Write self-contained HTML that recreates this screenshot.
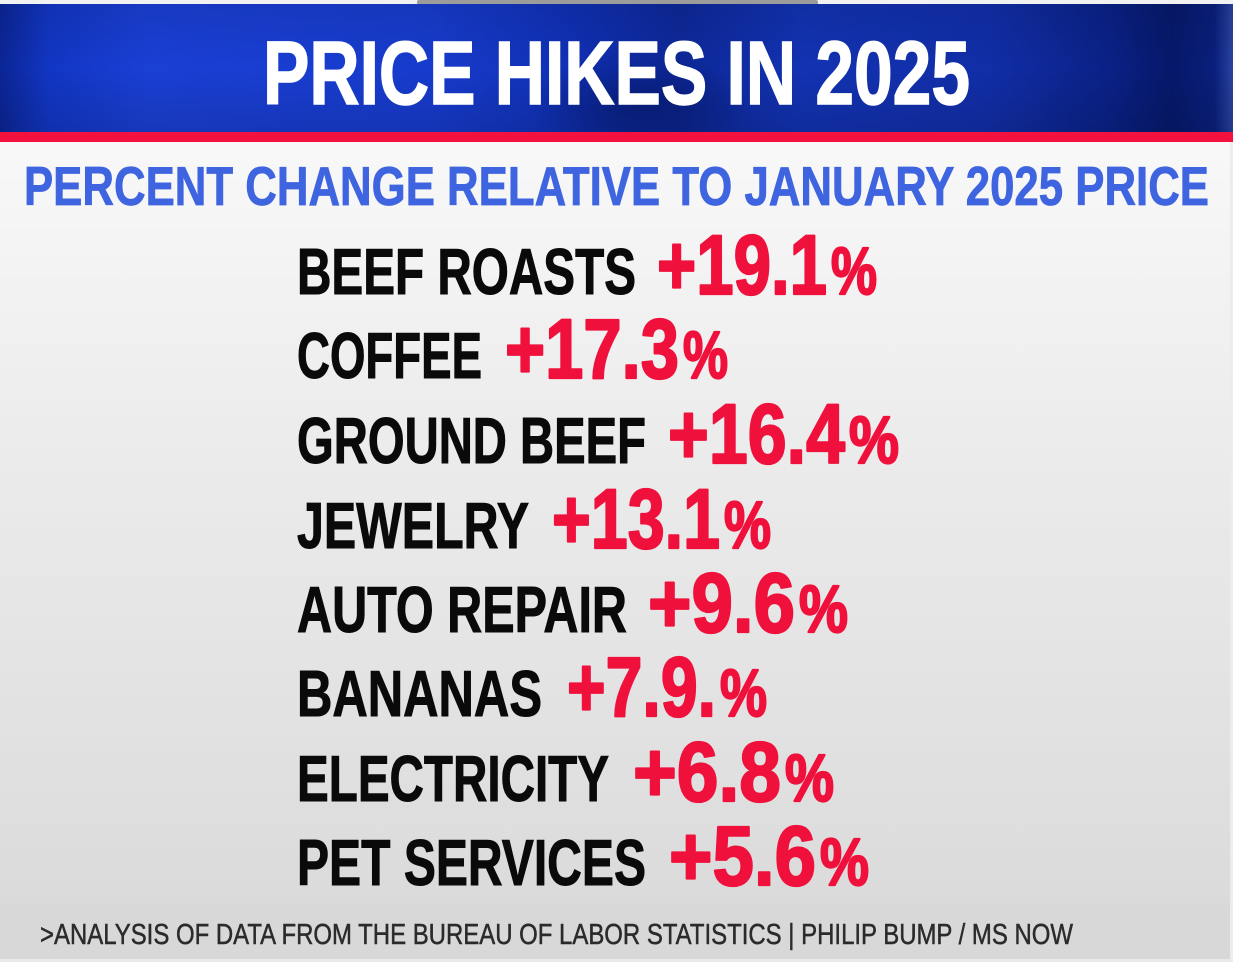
<!DOCTYPE html>
<html>
<head>
<meta charset="utf-8">
<style>
  html, body { margin: 0; padding: 0; }
  body { width: 1233px; height: 962px; overflow: hidden; background: #e6e6e6; }
  svg { display: block; }
  text { font-family: "Liberation Sans", "DejaVu Sans", sans-serif; }
</style>
</head>
<body>
<svg width="1233" height="962" viewBox="0 0 1233 962" xmlns="http://www.w3.org/2000/svg">
  <defs>
    <linearGradient id="bg" x1="0" y1="0" x2="0" y2="1">
      <stop offset="0" stop-color="#ffffff"/>
      <stop offset="0.08" stop-color="#fbfbfb"/>
      <stop offset="0.45" stop-color="#ececec"/>
      <stop offset="0.8" stop-color="#e0e0e0"/>
      <stop offset="1" stop-color="#d8d8d8"/>
    </linearGradient>
    <linearGradient id="band" x1="0" y1="0" x2="1" y2="0">
      <stop offset="0" stop-color="#0b2595"/>
      <stop offset="0.04" stop-color="#1236c4"/>
      <stop offset="0.12" stop-color="#1a3fd4"/>
      <stop offset="0.35" stop-color="#173bcc"/>
      <stop offset="0.46" stop-color="#1030b5"/>
      <stop offset="0.55" stop-color="#0d2898"/>
      <stop offset="0.65" stop-color="#1232b2"/>
      <stop offset="0.8" stop-color="#112ea8"/>
      <stop offset="0.9" stop-color="#0a2186"/>
      <stop offset="0.95" stop-color="#06186a"/>
      <stop offset="0.985" stop-color="#0a1f7c"/>
      <stop offset="1" stop-color="#2a44a0"/>
    </linearGradient>
    <radialGradient id="shade" cx="0.5" cy="0.5" r="0.5">
      <stop offset="0" stop-color="#061a70" stop-opacity="0.75"/>
      <stop offset="1" stop-color="#061a70" stop-opacity="0"/>
    </radialGradient>
    <linearGradient id="bandV" x1="0" y1="0" x2="0" y2="1">
      <stop offset="0" stop-color="#000" stop-opacity="0.08"/>
      <stop offset="0.5" stop-color="#000" stop-opacity="0"/>
      <stop offset="1" stop-color="#000" stop-opacity="0.12"/>
    </linearGradient>
    <clipPath id="bandClip">
      <rect x="0" y="4" width="1233" height="128"/>
    </clipPath>
  </defs>

  <!-- background -->
  <rect x="0" y="0" width="1233" height="962" fill="url(#bg)"/>
  <rect x="0" y="905" width="1233" height="55" fill="#d8d8d8"/>
  <rect x="0" y="959" width="1233" height="3" fill="#e9e9e9"/>
  <rect x="1230" y="142" width="3" height="820" fill="#ececec"/>

  <!-- top strip -->
  <rect x="0" y="0" width="1233" height="4" fill="#f2f2f2"/>
  <rect x="417" y="0" width="401" height="5" rx="2" fill="#9c9c9c"/>

  <!-- blue header band -->
  <g clip-path="url(#bandClip)">
    <rect x="0" y="4" width="1233" height="129" fill="url(#band)"/>
    <ellipse cx="640" cy="105" rx="110" ry="55" fill="url(#shade)"/>
    <rect x="0" y="4" width="1233" height="129" fill="url(#bandV)"/>
  </g>
  <!-- red stripe -->
  <rect x="0" y="132" width="1233" height="10" fill="#f3123f"/>

  <!-- title -->
  <text x="263" y="104" font-size="90" font-weight="bold" fill="#ffffff" stroke="#ffffff" stroke-width="1.5" textLength="707" lengthAdjust="spacingAndGlyphs">PRICE HIKES IN 2025</text>

  <!-- subtitle -->
  <text x="24" y="205" font-size="55" font-weight="bold" fill="#3f64e0" stroke="#3f64e0" stroke-width="0.8" textLength="1185" lengthAdjust="spacingAndGlyphs">PERCENT CHANGE RELATIVE TO JANUARY 2025 PRICE</text>

  <!-- rows -->
  <g font-weight="bold">
    <g fill="#0a0a0a" stroke="#0a0a0a" stroke-width="1" font-size="65">
      <text x="297" y="294" textLength="339" lengthAdjust="spacingAndGlyphs">BEEF ROASTS</text>
      <text x="297" y="378" textLength="185" lengthAdjust="spacingAndGlyphs">COFFEE</text>
      <text x="297" y="463" textLength="349" lengthAdjust="spacingAndGlyphs">GROUND BEEF</text>
      <text x="297" y="548" textLength="232" lengthAdjust="spacingAndGlyphs">JEWELRY</text>
      <text x="297" y="632" textLength="330" lengthAdjust="spacingAndGlyphs">AUTO REPAIR</text>
      <text x="297" y="716" textLength="245" lengthAdjust="spacingAndGlyphs">BANANAS</text>
      <text x="297" y="801" textLength="312" lengthAdjust="spacingAndGlyphs">ELECTRICITY</text>
      <text x="297" y="885" textLength="349" lengthAdjust="spacingAndGlyphs">PET SERVICES</text>
    </g>
    <g fill="#f0103c" stroke="#f0103c" stroke-width="2.2" stroke-linejoin="round">
      <text x="657" y="294" font-size="84" textLength="170" lengthAdjust="spacingAndGlyphs">+19.1</text>
      <text x="831" y="294" font-size="67" textLength="46" lengthAdjust="spacingAndGlyphs">%</text>

      <text x="505" y="378" font-size="84" textLength="174" lengthAdjust="spacingAndGlyphs">+17.3</text>
      <text x="683" y="378" font-size="67" textLength="45" lengthAdjust="spacingAndGlyphs">%</text>

      <text x="668" y="463" font-size="84" textLength="177" lengthAdjust="spacingAndGlyphs">+16.4</text>
      <text x="849" y="463" font-size="67" textLength="50" lengthAdjust="spacingAndGlyphs">%</text>

      <text x="552" y="548" font-size="84" textLength="168" lengthAdjust="spacingAndGlyphs">+13.1</text>
      <text x="724" y="548" font-size="67" textLength="47" lengthAdjust="spacingAndGlyphs">%</text>

      <text x="648" y="632" font-size="84" textLength="147" lengthAdjust="spacingAndGlyphs">+9.6</text>
      <text x="799" y="632" font-size="67" textLength="49" lengthAdjust="spacingAndGlyphs">%</text>

      <text x="567" y="716" font-size="84" textLength="149" lengthAdjust="spacingAndGlyphs">+7.9.</text>
      <text x="720" y="716" font-size="67" textLength="47" lengthAdjust="spacingAndGlyphs">%</text>

      <text x="633" y="801" font-size="84" textLength="148" lengthAdjust="spacingAndGlyphs">+6.8</text>
      <text x="785" y="801" font-size="67" textLength="49" lengthAdjust="spacingAndGlyphs">%</text>

      <text x="669" y="885" font-size="84" textLength="147" lengthAdjust="spacingAndGlyphs">+5.6</text>
      <text x="820" y="885" font-size="67" textLength="49" lengthAdjust="spacingAndGlyphs">%</text>
    </g>
  </g>

  <!-- footer -->
  <text x="40" y="944" font-size="29" fill="#2b2b2b" stroke="#2b2b2b" stroke-width="0.5" textLength="1033" lengthAdjust="spacingAndGlyphs">&gt;ANALYSIS OF DATA FROM THE BUREAU OF LABOR STATISTICS | PHILIP BUMP / MS NOW</text>
</svg>
</body>
</html>
